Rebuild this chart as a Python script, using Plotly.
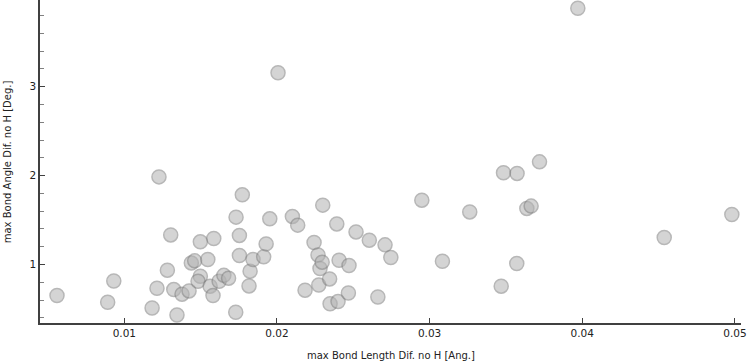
import plotly.graph_objects as go

bond_length_dif = [
    0.00559, 0.00891, 0.00931, 0.01182, 0.01214, 0.01227, 0.01282, 0.01304, 0.01324, 0.01345,
    0.01378, 0.01424, 0.01439, 0.01461, 0.01498, 0.01498, 0.01483, 0.01547, 0.01562, 0.01586,
    0.01581, 0.01621, 0.01652, 0.01683, 0.01730, 0.01732, 0.01754, 0.01754, 0.01773, 0.01817,
    0.01824, 0.01843, 0.01913, 0.01929, 0.01953, 0.02007, 0.02101, 0.02136, 0.02184, 0.02243,
    0.02269, 0.02274, 0.02282, 0.02296, 0.02300, 0.02345, 0.02348, 0.02392, 0.02400, 0.02407,
    0.02468, 0.02472, 0.02518, 0.02605, 0.02661, 0.02708, 0.02746, 0.02949, 0.03084, 0.03263,
    0.03469, 0.03484, 0.03571, 0.03573, 0.03637, 0.03665, 0.03720, 0.03971, 0.04537, 0.04980,
]
bond_angle_dif = [
    0.651, 0.575, 0.815, 0.511, 0.733, 1.986, 0.936, 1.333, 0.718, 0.432,
    0.666, 0.703, 1.018, 1.041, 1.255, 0.868, 0.812, 1.056, 0.756, 1.293,
    0.651, 0.812, 0.878, 0.846, 0.463, 1.533, 1.327, 1.101, 1.784, 0.759,
    0.925, 1.056, 1.086, 1.232, 1.514, 3.158, 1.541, 1.443, 0.711, 1.248,
    1.108, 0.770, 0.955, 1.026, 1.668, 0.838, 0.559, 1.457, 0.583, 1.048,
    0.680, 0.989, 1.367, 1.274, 0.635, 1.221, 1.079, 1.724, 1.037, 1.592,
    0.756, 2.032, 1.011, 2.025, 1.631, 1.657, 2.155, 3.883, 1.304, 1.563,
]

x_tickvals = [0.01, 0.02, 0.03, 0.04, 0.05]
x_ticktext = ["0.01", "0.02", "0.03", "0.04", "0.05"]
y_tickvals = [1, 2, 3]
y_ticktext = ["1", "2", "3"]

x_title = "max Bond Length Dif. no H [Ang.]"
y_title = "max Bond Angle Dif. no H [Deg.]"

font_family = "DejaVu Sans"
axis_color = "#404040"
text_color = "#222222"

fig = go.Figure(
    go.Scatter(
        x=bond_length_dif,
        y=bond_angle_dif,
        mode="markers",
        marker=dict(
            size=14,
            color="rgb(178,178,178)",
            opacity=0.55,
            line=dict(color="rgb(125,125,125)", width=1.5),
        ),
        hoverinfo="x+y",
    )
)

fig.update_layout(
    width=750,
    height=362,
    margin=dict(l=40, r=9, t=0, b=39, pad=0),
    paper_bgcolor="white",
    plot_bgcolor="white",
    showlegend=False,
    font=dict(family=font_family, size=10, color=text_color),
    annotations=[
        dict(
            text=x_title, xref="paper", yref="paper", x=0.5, y=-0.1,
            xanchor="center", yanchor="middle", showarrow=False,
            font=dict(family=font_family, size=10, color=text_color),
        ),
        dict(
            text=y_title, xref="paper", yref="paper", x=-0.046, y=0.5,
            xanchor="center", yanchor="middle", textangle=-90, showarrow=False,
            font=dict(family=font_family, size=10, color=text_color),
        ),
    ],
)

fig.update_xaxes(
    range=[0.004476, 0.0504],
    tickvals=x_tickvals,
    ticktext=x_ticktext,
    ticks="inside",
    ticklen=5,
    tickwidth=1,
    tickcolor=axis_color,
    showline=True,
    linecolor=axis_color,
    linewidth=1.5,
    showgrid=False,
    zeroline=False,
    automargin=False,
    tickfont=dict(family=font_family, size=10.5, color=text_color),
)

fig.update_yaxes(
    range=[0.342, 3.976],
    tickvals=y_tickvals,
    ticktext=y_ticktext,
    ticks="inside",
    ticklen=5,
    tickwidth=1,
    tickcolor=axis_color,
    minor=dict(dtick=0.2, tick0=0, ticks="inside", ticklen=4, tickcolor="#808080", tickwidth=1),
    showline=True,
    linecolor=axis_color,
    linewidth=1.5,
    showgrid=False,
    zeroline=False,
    automargin=False,
    tickfont=dict(family=font_family, size=10.5, color=text_color),
)

fig.write_html(
    "out.html",
    config={"displayModeBar": False},
    post_script="document.body.style.margin='0';document.body.style.overflow='hidden';",
)
